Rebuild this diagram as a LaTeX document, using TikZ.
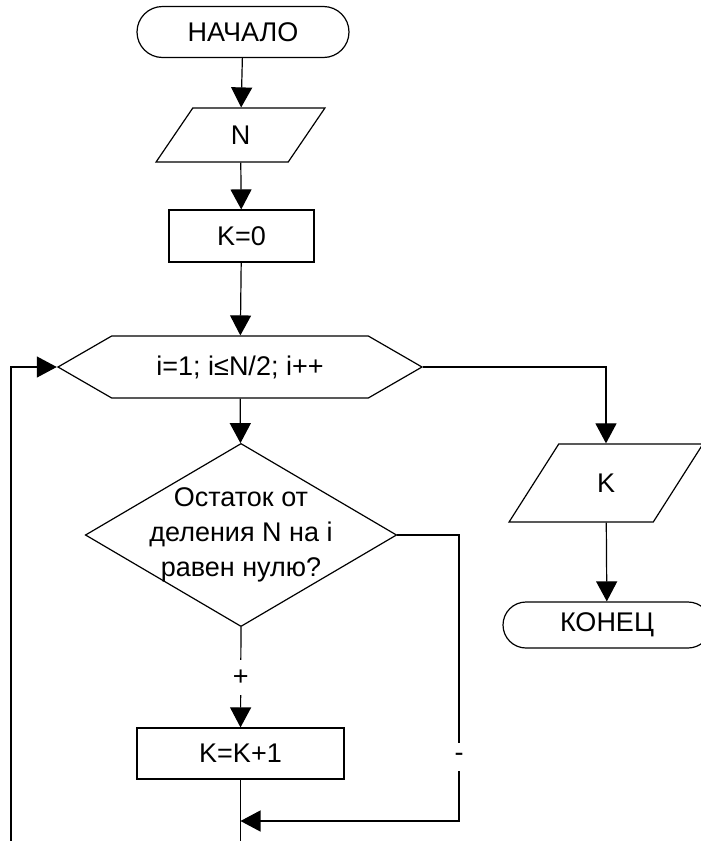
\documentclass[tikz,border=0pt]{standalone}
\usepackage{fontspec}
\setmainfont{Liberation Sans}
\usetikzlibrary{shapes.geometric,shapes.misc,shapes.symbols,arrows.meta}
\tikzset{
  term/.style={draw,rounded rectangle,inner sep=0pt},
  io/.style={draw,trapezium,trapezium stretches=true,trapezium left angle=#1,
    trapezium right angle=180-#1,inner sep=0pt},
  proc/.style={draw,rectangle,inner sep=0pt},
  loopbox/.style={draw,signal,signal to=west and east,signal pointer angle=60,inner sep=0pt},
  cond/.style={draw,diamond,aspect=1.7,inner sep=-3pt,align=center},
  lbl/.style={fill=white,inner xsep=2pt,inner ysep=5pt},
  arr/.style={-{Triangle[length=10pt,width=10.5pt]}}
}
\begin{document}
\begin{tikzpicture}[x=0.5pt,y=-0.5pt,line width=0.6pt,font=\fontsize{13.5}{17.5}\selectfont]
  \useasboundingbox (0,0) rectangle (701,841);
  % blocks
  \node[term,minimum width=106pt,minimum height=25.5pt] (start) at (243,32) {НАЧАЛО};
  \node[io=68,minimum width=84.5pt,minimum height=27pt] (inN) at (240.5,135) {N};
  \node[proc,minimum width=72.5pt,minimum height=26pt] (k0) at (241.5,236) {K=0};
  \node[loopbox,minimum width=182pt,minimum height=31pt] (loop) at (240,367) {i=1; i≤N/2; i++};
  \node[cond,minimum width=153.5pt,minimum height=90pt] (test) at (241,535)
    {Остаток от\\деления N на i\\равен нулю?};
  \node[proc,minimum width=103.5pt,minimum height=25.5pt] (inc) at (240.5,753.5) {K=K+1};
  \node[io=63,minimum width=97pt,minimum height=39pt] (outK) at (606,483) {K};
  \node[term,minimum width=104pt,minimum height=23pt] (stop) at (607,625) {КОНЕЦ};
  \coordinate (merge) at (inc.south |- 0,821);
  % connectors
  \draw[arr] (start) -- (inN);
  \draw[arr] (inN) -- (k0);
  \draw[arr] (k0) -- (loop);
  \draw[arr] (loop) -- (test);
  \draw[arr] (loop.east) -| (outK.north);
  \draw[arr] (outK) -- (stop);
  \draw[arr] (test.south) -- node[lbl] {+} (inc.north);
  \draw[arr] (test.east) -| (459,757) node[lbl] {-} |- (merge);
  \draw[arr] (inc.south) -- (inc.south |- 0,870) -| (11,367) -- (loop.west);
\end{tikzpicture}
\end{document}
